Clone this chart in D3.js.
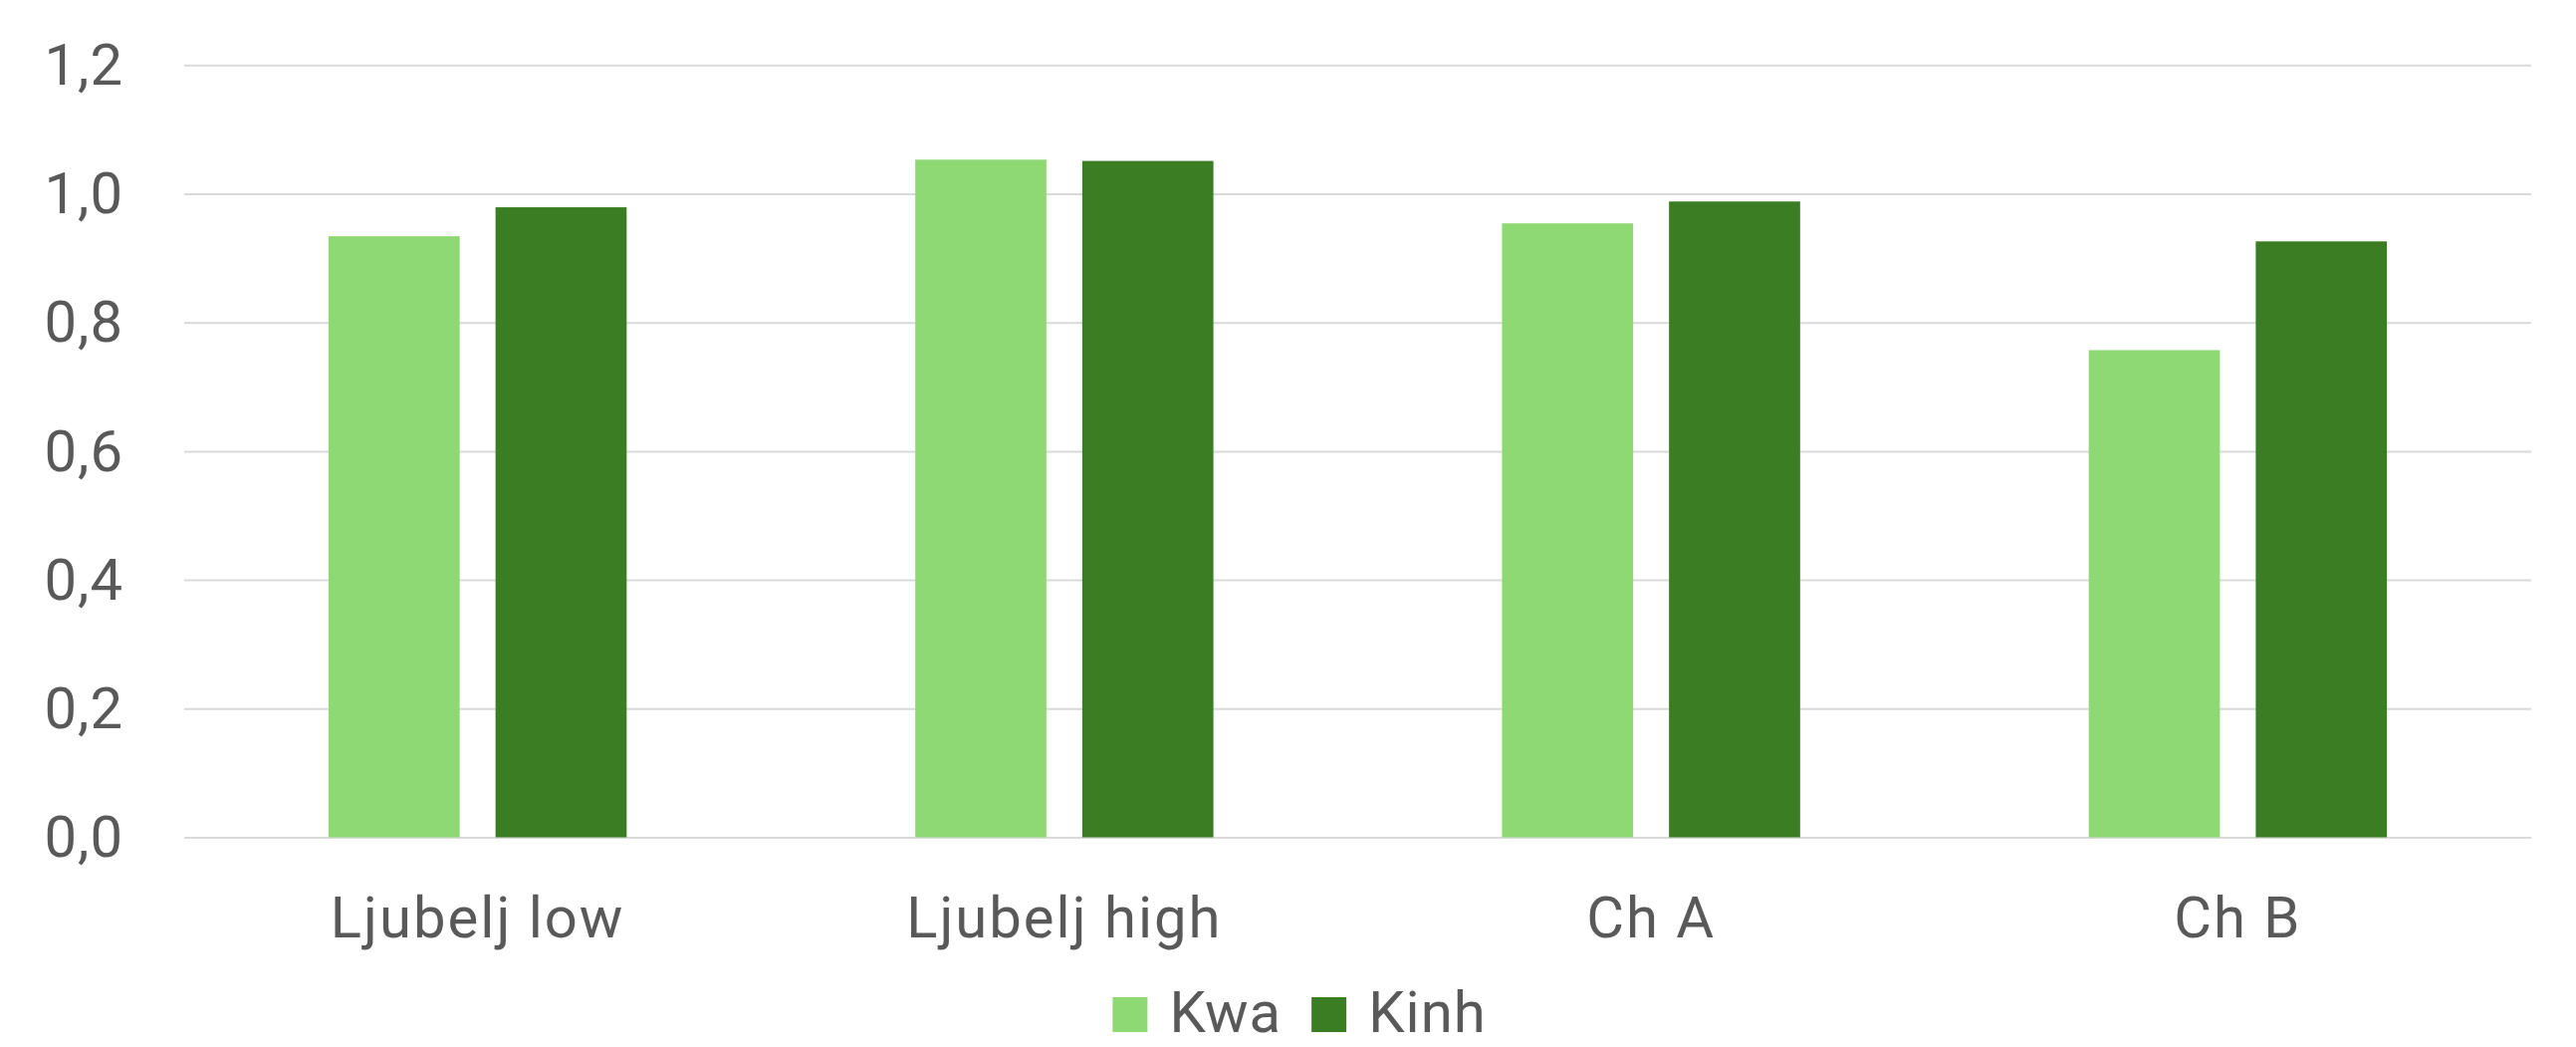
<!DOCTYPE html>
<html>
<head>
<meta charset="utf-8">
<script src="https://cdn.jsdelivr.net/npm/d3@7"></script>
<style>
  html, body { margin: 0; padding: 0; background: #ffffff; }
  svg { display: block; }
  text { font-family: Roboto, "Open Sans", sans-serif; fill: #595959; }
</style>
</head>
<body>
<svg id="chart" width="2587" height="1051"></svg>
<script>
// Categories, series and tick values
const categories = ["Ljubelj low", "Ljubelj high", "Ch A", "Ch B"];
const seriesNames = ["Kwa", "Kinh"];
const kwaValues = [0.934, 1.053, 0.954, 0.757];
const kinhValues = [0.979, 1.051, 0.988, 0.926];
const yTicks = [0, 0.2, 0.4, 0.6, 0.8, 1.0, 1.2];
const seriesColors = ["#8FD974", "#3B7D23"];

const seriesValues = [kwaValues, kinhValues];

const svg = d3.select("#chart");
const plot = { left: 185, right: 2542, top: 65.3, bottom: 840.5 };
const fontSize = 58;

const locale = d3.formatLocale({ decimal: ",", thousands: " ", grouping: [3], currency: ["", ""] });
const fmt = locale.format(".1f");

const y = d3.scaleLinear().domain([0, 1.2]).range([plot.bottom, plot.top]);
const x0 = d3.scaleBand().domain(categories).range([plot.left, plot.right]).padding(0);
const x1 = d3.scaleBand().domain(seriesNames).range([0, x0.bandwidth()])
  .paddingInner(0.2147).paddingOuter(0.864);

// Horizontal gridlines
const grid = svg.append("g")
  .attr("transform", `translate(${plot.left},0)`)
  .call(d3.axisLeft(y).tickValues(yTicks).tickSize(-(plot.right - plot.left)).tickFormat(""));
grid.select(".domain").remove();
grid.selectAll(".tick line").attr("stroke", "#D9D9D9").attr("stroke-width", 2);

// Y axis labels
const yAxis = svg.append("g")
  .attr("transform", `translate(${plot.left},0)`)
  .call(d3.axisLeft(y).tickValues(yTicks).tickSize(0).tickPadding(61).tickFormat(fmt));
yAxis.select(".domain").remove();
yAxis.selectAll("text")
  .style("font-size", fontSize + "px")
  .style("letter-spacing", "1px")
  .attr("fill", "#595959")
  .attr("dy", "0.33em");

// Bars
const groups = svg.append("g").selectAll("g")
  .data(categories)
  .join("g")
  .attr("transform", d => `translate(${x0(d)},0)`);

groups.selectAll("rect")
  .data((c, i) => seriesNames.map((s, k) => ({ series: s, value: seriesValues[k][i], k })))
  .join("rect")
  .attr("x", d => x1(d.series))
  .attr("width", x1.bandwidth())
  .attr("y", d => y(d.value))
  .attr("height", d => y(0) - y(d.value))
  .attr("fill", d => seriesColors[d.k]);

// Category axis labels
const xAxis = svg.append("g")
  .attr("transform", `translate(0,${plot.bottom})`)
  .call(d3.axisBottom(x0).tickSize(0).tickPadding(59));
xAxis.select(".domain").remove();
xAxis.selectAll("text")
  .style("font-size", fontSize + "px")
  .style("letter-spacing", "2px")
  .attr("fill", "#595959");

// Legend
const legend = svg.append("g");
const sq = 35, gapText = 22, gapItem = 30, legendBaseline = 1036, legendCenter = 1305;
const items = legend.selectAll("g").data(seriesNames).join("g");
items.append("rect")
  .attr("width", sq).attr("height", sq)
  .attr("y", legendBaseline - sq)
  .attr("fill", (d, i) => seriesColors[i]);
items.append("text")
  .attr("x", sq + gapText)
  .attr("y", legendBaseline)
  .style("font-size", fontSize + "px")
  .style("letter-spacing", "1px")
  .text(d => d);
const widths = [];
items.each(function () {
  const tw = d3.select(this).select("text").node().getComputedTextLength();
  widths.push(sq + gapText + tw);
});
const totalW = d3.sum(widths) + gapItem * (widths.length - 1);
let cursor = legendCenter - totalW / 2;
items.attr("transform", (d, i) => {
  const tx = cursor;
  cursor += widths[i] + gapItem;
  return `translate(${tx},0)`;
});
</script>
</body>
</html>
